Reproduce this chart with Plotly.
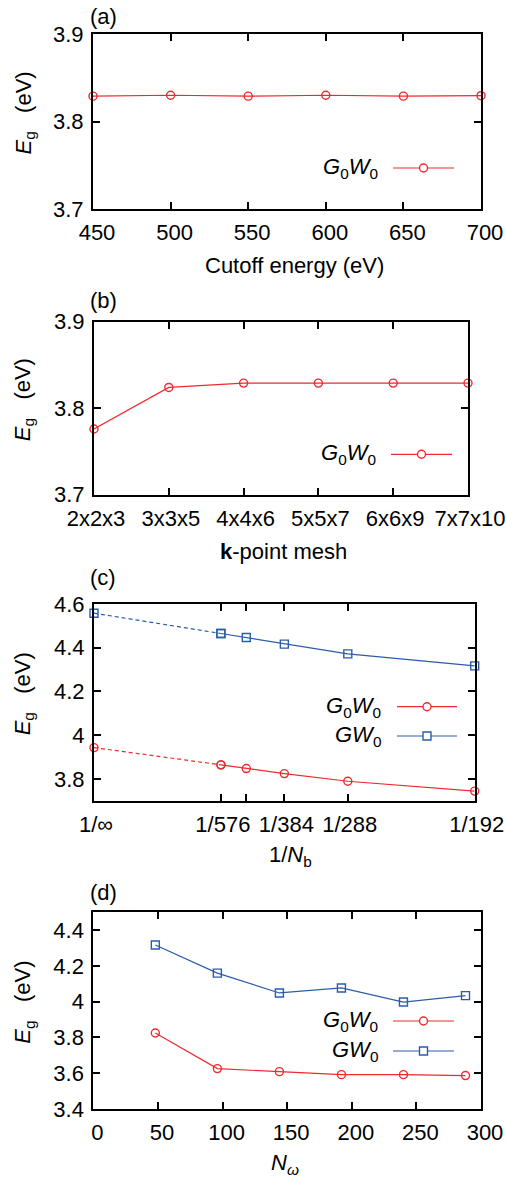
import plotly.graph_objects as go

# ---- data -------------------------------------------------------------
cutoff_ev = [450, 500, 550, 600, 650, 700]
eg_cutoff = [3.829, 3.830, 3.829, 3.830, 3.829, 3.8295]

kmesh = ["2x2x3", "3x3x5", "4x4x6", "5x5x7", "6x6x9", "7x7x10"]
eg_kmesh = [3.776, 3.824, 3.829, 3.829, 3.829, 3.829]

nbands = [576, 480, 384, 288, 192]
g0w0_nb = [3.864, 3.847, 3.824, 3.789, 3.744]
gw0_nb = [4.465, 4.447, 4.4165, 4.372, 4.317]
g0w0_nb_inf = 3.943   # extrapolated to 1/Nb -> 0
gw0_nb_inf = 4.558

nomega = [48, 96, 144, 192, 240, 288]
g0w0_nw = [3.825, 3.626, 3.609, 3.592, 3.592, 3.587]
gw0_nw = [4.317, 4.160, 4.049, 4.077, 3.998, 4.034]

nb_ticklabels = ["1/\u221e", "1/576", "", "1/384", "1/288", "1/192"]

# ---- style ------------------------------------------------------------
W, H = 506, 1182
RED = "#ee2a2e"
BLUE = "#2b5cab"
FONT = "Liberation Sans, Arial, sans-serif"
FS = 22


def px(x):
    return x / W


def py(y):
    return 1 - y / H


# plot boxes in pixels: (left, right, top, bottom)
boxes = [
    (93, 481, 34, 209),
    (94, 468, 321.7, 494.7),
    (94, 474.7, 604, 800.7),
    (93.3, 481, 912.3, 1109),
]

fig = go.Figure()


def line_trace(x, y, color, symbol, xa, ya, dash="solid"):
    fig.add_trace(go.Scatter(
        x=x, y=y, xaxis=xa, yaxis=ya, mode="lines+markers",
        line=dict(color=color, width=1.2, dash=dash),
        marker=dict(symbol=symbol, size=8, color=color,
                    line=dict(color=color, width=1.4)),
        showlegend=False, hoverinfo="skip", cliponaxis=False,
    ))


# (a) cutoff energy
line_trace(cutoff_ev, eg_cutoff, RED, "circle-open", "x", "y")
# (b) k-point mesh
line_trace(kmesh, eg_kmesh, RED, "circle-open", "x2", "y2")
# (c) number of bands, with extrapolation to 1/Nb = 0
inv_nb = [1.0 / n for n in nbands]
line_trace([0.0, inv_nb[0]], [g0w0_nb_inf, g0w0_nb[0]], RED, "circle-open",
           "x3", "y3", dash="4px,3px")
line_trace([0.0, inv_nb[0]], [gw0_nb_inf, gw0_nb[0]], BLUE, "square-open",
           "x3", "y3", dash="4px,3px")
line_trace(inv_nb, g0w0_nb, RED, "circle-open", "x3", "y3")
line_trace(inv_nb, gw0_nb, BLUE, "square-open", "x3", "y3")
# (d) frequency points
line_trace(nomega, g0w0_nw, RED, "circle-open", "x4", "y4")
line_trace(nomega, gw0_nw, BLUE, "square-open", "x4", "y4")

axis_common = dict(
    showline=True, linewidth=2, linecolor="black", mirror="allticks",
    ticks="inside", ticklen=7, tickwidth=1.5, tickcolor="black",
    showgrid=False, zeroline=False, tickangle=0, automargin=False,
    tickfont=dict(family=FONT, size=FS, color="black"),
)

x_specs = [
    dict(range=[450, 700], tickvals=[450, 500, 550, 600, 650, 700], ticklabelshift=4),
    dict(type="category", range=[0, 5], ticklabelshift=2),
    dict(range=[0, 1 / 192], tickvals=[0.0] + inv_nb, ticktext=nb_ticklabels,
         ticklabelshift=2),
    dict(range=[0, 300], tickvals=[0, 50, 100, 150, 200, 250, 300], ticklabelshift=4),
]
y_specs = [
    dict(range=[3.7, 3.9], tickvals=[3.7, 3.8, 3.9]),
    dict(range=[3.7, 3.9], tickvals=[3.7, 3.8, 3.9]),
    dict(range=[3.7, 4.6], tickvals=[3.8, 4.0, 4.2, 4.4, 4.6]),
    dict(range=[3.4, 4.5], tickvals=[3.4, 3.6, 3.8, 4.0, 4.2, 4.4]),
]

layout = dict(
    width=W, height=H, margin=dict(l=0, r=0, t=0, b=0, autoexpand=False),
    paper_bgcolor="white", plot_bgcolor="white", showlegend=False,
)
for i, (l, r, t, b) in enumerate(boxes):
    sx = "" if i == 0 else str(i + 1)
    xa = dict(axis_common, domain=[px(l), px(r)], anchor="y" + sx,
              ticklabelstandoff=3, **x_specs[i])
    ya = dict(axis_common, domain=[py(b), py(t)], anchor="x" + sx,
              ticklabelstandoff=3, **y_specs[i])
    layout["xaxis" + sx] = xa
    layout["yaxis" + sx] = ya
fig.update_layout(**layout)

annotations = []
shapes = []


def text(x, y, s, angle=0, xanchor="center", size=FS):
    annotations.append(dict(
        x=px(x), y=py(y), xref="paper", yref="paper", text=s, showarrow=False,
        textangle=angle, xanchor=xanchor, yanchor="middle",
        font=dict(family=FONT, size=size, color="black"),
    ))


# panel tags
for tag, y in zip(["(a)", "(b)", "(c)", "(d)"], [17, 300, 577, 892]):
    text(103, y, tag)

# y-axis titles
ylab = "<i>E</i><sub>g</sub>\u00a0\u00a0\u00a0(eV)"
for (l, r, t, b) in boxes:
    text(24, (t + b) / 2 - 8, ylab, angle=-90)

# x-axis titles
text(294, 266, "Cutoff energy (eV)")
text(283, 551, "<b>k</b>-point mesh")
text(290, 856, "1/<i>N</i><sub>b</sub>")
text(285, 1164, "<i>N</i><sub><i>\u03c9</i></sub>")

# legends: label on the left, sample line with marker on the right
G0W0 = "<i>G</i><sub>0</sub><i>W</i><sub>0</sub>"
GW0 = "<i>GW</i><sub>0</sub>"
legend_rows = [
    (G0W0, RED, "circle", 380, 393, 454, 168),
    (G0W0, RED, "circle", 378, 391, 452, 454.3),
    (G0W0, RED, "circle", 383, 397, 457, 706.7),
    (GW0, BLUE, "rect", 383, 397, 457, 736),
    (G0W0, RED, "circle", 380, 393, 454, 1021),
    (GW0, BLUE, "rect", 380, 393, 454, 1051),
]
for label, color, shp, tx, x0, x1, y in legend_rows:
    text(tx, y, label, xanchor="right")
    shapes.append(dict(type="line", xref="paper", yref="paper",
                       x0=px(x0), x1=px(x1), y0=py(y), y1=py(y),
                       line=dict(color=color, width=1.2)))
    xm = (x0 + x1) / 2
    shapes.append(dict(type=shp, xref="paper", yref="paper",
                       xsizemode="pixel", ysizemode="pixel",
                       xanchor=px(xm), yanchor=py(y),
                       x0=-4, x1=4, y0=-4, y1=4,
                       fillcolor="white", line=dict(color=color, width=1.4)))

fig.update_layout(annotations=annotations, shapes=shapes)
fig.write_html("out.html")
